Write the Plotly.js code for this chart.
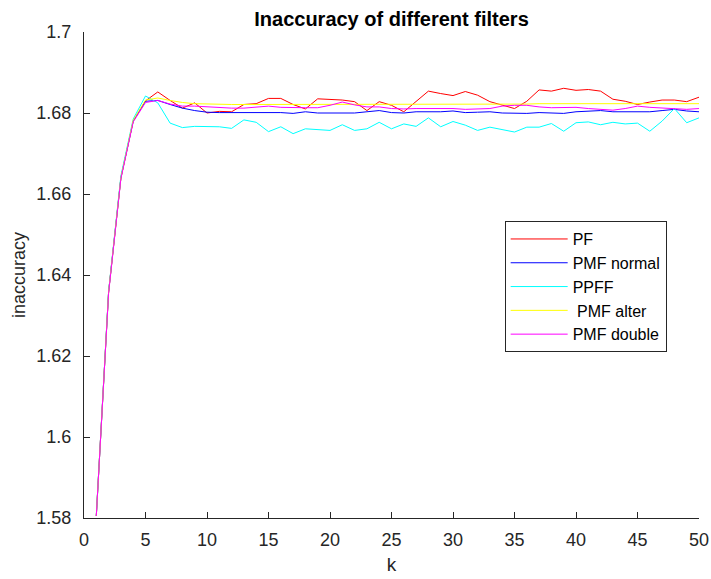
<!DOCTYPE html>
<html>
<head>
<meta charset="utf-8">
<script src="https://cdn.plot.ly/plotly-3.0.1.min.js"></script>
<style>html,body{margin:0;padding:0;background:#fff;}#chart{width:711px;height:579px;}</style>
</head>
<body>
<div id="chart"></div>
<script>
const k = [1,2,3,4,5,6,7,8,9,10,11,12,13,14,15,16,17,18,19,20,21,22,23,24,25,26,27,28,29,30,31,32,33,34,35,36,37,38,39,40,41,42,43,44,45,46,47,48,49,50];

const pf = [1.5805,1.6358,1.6640,1.6780,1.6830,1.6852,1.6831,1.6812,1.6825,1.6800,
            1.6804,1.6803,1.6821,1.6823,1.6836,1.6836,1.6821,1.6810,1.6835,1.6834,
            1.6832,1.6828,1.6806,1.6828,1.6819,1.6803,1.6829,1.6854,1.6848,1.6843,
            1.6853,1.6844,1.6828,1.6819,1.6811,1.6829,1.6857,1.6854,1.6861,1.6856,
            1.6858,1.6854,1.6834,1.6829,1.6821,1.6827,1.6832,1.6832,1.6828,1.6839];

const pmfNormal = [1.5805,1.6358,1.6640,1.6780,1.6829,1.6831,1.6821,1.6812,1.6806,1.6802,
                   1.6801,1.6801,1.6801,1.6800,1.6801,1.6801,1.6799,1.6803,1.6800,1.6800,
                   1.6800,1.6800,1.6803,1.6806,1.6801,1.6800,1.6803,1.6803,1.6803,1.6805,
                   1.6801,1.6802,1.6803,1.6800,1.6799,1.6799,1.6801,1.6800,1.6799,1.6803,
                   1.6805,1.6806,1.6803,1.6803,1.6803,1.6803,1.6806,1.6809,1.6805,1.6803];

const ppff = [1.5805,1.6360,1.6645,1.6785,1.6842,1.6825,1.6775,1.6764,1.6767,1.6767,
              1.6766,1.6762,1.6783,1.6777,1.6754,1.6766,1.6749,1.6761,1.6759,1.6757,
              1.6771,1.6757,1.6761,1.6777,1.6761,1.6773,1.6767,1.6788,1.6766,1.6779,
              1.6770,1.6757,1.6765,1.6759,1.6753,1.6765,1.6765,1.6774,1.6755,1.6776,
              1.6778,1.6771,1.6777,1.6773,1.6775,1.6755,1.6780,1.6811,1.6776,1.6788];

const pmfAlter = [1.5805,1.6358,1.6640,1.6782,1.6832,1.6837,1.6831,1.6826,1.6823,1.6822,
                  1.6821,1.6821,1.6821,1.6821,1.6822,1.6822,1.6822,1.6822,1.6822,1.6821,
                  1.6821,1.6822,1.6822,1.6822,1.6822,1.6822,1.6822,1.6822,1.6822,1.6822,
                  1.6822,1.6822,1.6822,1.6822,1.6822,1.6822,1.6823,1.6823,1.6823,1.6822,
                  1.6822,1.6822,1.6822,1.6823,1.6823,1.6823,1.6823,1.6823,1.6823,1.6823];

const pmfDouble = [1.5805,1.6355,1.6638,1.6778,1.6826,1.6831,1.6822,1.6817,1.6817,1.6815,
                   1.6814,1.6812,1.6812,1.6815,1.6817,1.6814,1.6813,1.6813,1.6813,1.6819,
                   1.6827,1.6820,1.6815,1.6815,1.6811,1.6810,1.6811,1.6811,1.6811,1.6811,
                   1.6809,1.6810,1.6811,1.6817,1.6819,1.6819,1.6815,1.6813,1.6814,1.6814,
                   1.6811,1.6809,1.6807,1.6811,1.6817,1.6814,1.6812,1.6810,1.6809,1.6811];

const seriesNames = ["PF", "PMF normal", "PPFF", " PMF alter", "PMF double"];
const seriesColors = ["#ff0000", "#0000ff", "#00ffff", "#ffff00", "#ff00ff"];
const seriesValues = [pf, pmfNormal, ppff, pmfAlter, pmfDouble];

const xTickVals = [0,5,10,15,20,25,30,35,40,45,50];
const xTickText = ["0","5","10","15","20","25","30","35","40","45","50"];
const yTickVals = [1.58,1.6,1.62,1.64,1.66,1.68,1.7];
const yTickText = ["1.58","1.6","1.62","1.64","1.66","1.68","1.7"];

const FONT = "Liberation Sans, Arial, Helvetica, sans-serif";
const AX = "#262626";

const traces = seriesValues.map((v, i) => ({
  x: k, y: v, type: "scatter", mode: "lines", name: seriesNames[i],
  line: {color: seriesColors[i], width: 1}
}));

const layout = {
  width: 711, height: 579,
  margin: {l: 84, r: 12, t: 32, b: 61, pad: 0},
  paper_bgcolor: "#ffffff", plot_bgcolor: "#ffffff",
  font: {family: FONT, color: AX, size: 18},
  title: {text: "<b>Inaccuracy of different filters</b>", font: {family: FONT, size: 20, color: "#000000"},
          xref: "paper", x: 0.5, xanchor: "center", yref: "container", y: 0.967, yanchor: "middle"},
  xaxis: {
    range: [0, 50], tickvals: xTickVals, ticktext: xTickText,
    showline: true, linecolor: AX, linewidth: 1, mirror: false,
    ticks: "inside", ticklen: 6, tickcolor: AX, tickwidth: 1,
    showgrid: false, zeroline: false, ticklabelstandoff: 5,
    tickfont: {size: 18, color: AX},
    title: {text: "k", font: {size: 19, color: AX}, standoff: 9}
  },
  yaxis: {
    range: [1.58, 1.7], tickvals: yTickVals, ticktext: yTickText,
    showline: true, linecolor: AX, linewidth: 1, mirror: false,
    ticks: "inside", ticklen: 6, tickcolor: AX, tickwidth: 1,
    showgrid: false, zeroline: false, ticklabelstandoff: 8,
    tickfont: {size: 18, color: AX},
    title: {text: "inaccuracy", font: {size: 18, color: AX}, standoff: 6}
  },
  legend: {
    x: 0.684, y: 0.611, xanchor: "left", yanchor: "top",
    bgcolor: "#ffffff", bordercolor: AX, borderwidth: 1,
    itemwidth: 57,
    font: {size: 16, color: "#000000"}, traceorder: "normal"
  },
  showlegend: true
};

Plotly.newPlot("chart", traces, layout, {staticPlot: true, displayModeBar: false});
</script>
</body>
</html>
